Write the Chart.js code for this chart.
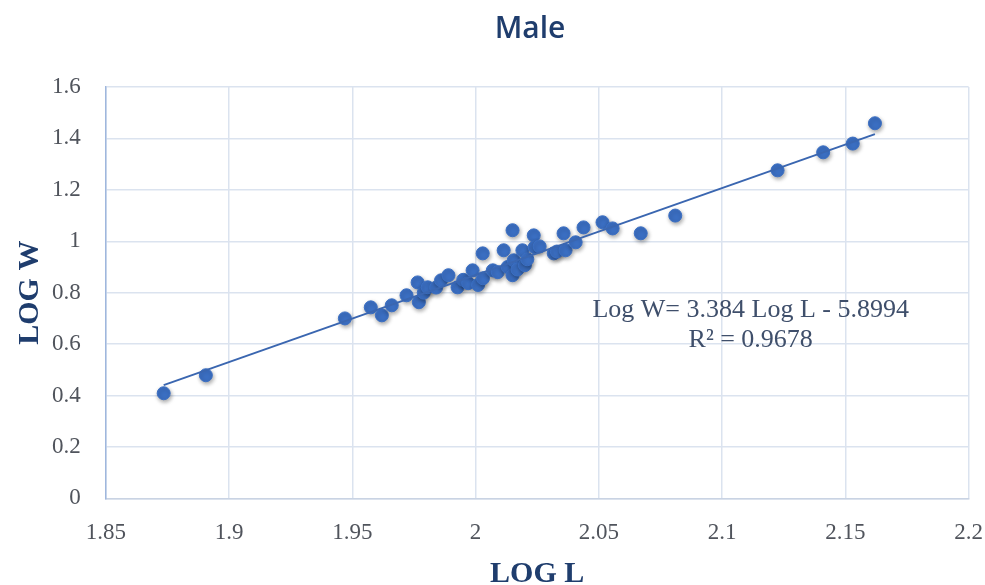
<!DOCTYPE html>
<html>
<head>
<meta charset="utf-8">
<script src="https://cdn.jsdelivr.net/npm/chart.js@4.4.1/dist/chart.umd.min.js"></script>
<style>
    html, body { margin: 0; padding: 0; background: #fff; }
    #wrap { width: 985px; height: 585px; }
</style>
</head>
<body>
<div id="wrap"><canvas id="lwChart"></canvas></div>
<script>
// length-weight pairs (log10), male specimens
const logL = [
    1.8735, 1.8906, 1.947, 1.9575, 1.962, 1.966, 1.972, 1.9765, 1.977, 1.979,
    1.9806, 1.984, 1.986, 1.989, 1.9927, 1.995, 1.997, 1.9988, 2.001, 2.003,
    2.0029, 2.007, 2.009, 2.0114, 2.013, 2.015, 2.015, 2.0155, 2.017, 2.019,
    2.020, 2.021, 2.0236, 2.024, 2.026, 2.0317, 2.033, 2.0357, 2.0365, 2.0406,
    2.0438, 2.0515, 2.0556, 2.067, 2.081, 2.1225, 2.141, 2.153, 2.162
];
const logW = [
    0.409, 0.479, 0.70, 0.743, 0.712, 0.751, 0.79, 0.84, 0.763, 0.80,
    0.821, 0.82, 0.848, 0.868, 0.821, 0.85, 0.837, 0.887, 0.83, 0.856,
    0.953, 0.887, 0.88, 0.965, 0.90, 1.043, 0.868, 0.926, 0.89, 0.965,
    0.907, 0.93, 1.023, 0.977, 0.98, 0.953, 0.96, 1.031, 0.965, 0.996,
    1.054, 1.074, 1.05, 1.031, 1.10, 1.276, 1.346, 1.38, 1.459
];

// fitted regression (shown on the chart)
const slope = 3.384;
const intercept = -5.8994;
const eqLines = ['Log W= 3.384 Log L - 5.8994', 'R\u00b2 = 0.9678'];

const xTicks = [1.85, 1.9, 1.95, 2, 2.05, 2.1, 2.15, 2.2];
const yTicks = [0, 0.2, 0.4, 0.6, 0.8, 1, 1.2, 1.4, 1.6];

const points = logL.map((x, i) => ({ x: x, y: logW[i] }));
const xMin = Math.min(...logL), xMax = Math.max(...logL);
const trend = [xMin, xMax].map(x => ({ x: x, y: slope * x + intercept }));

const serif = '"Liberation Serif", "DejaVu Serif", serif';

// soft drop shadow under the markers
const markerShadow = {
    id: 'markerShadow',
    beforeDatasetDraw(chart, args) {
        if (args.index !== 1) return;
        const ctx = chart.ctx;
        ctx.save();
        ctx.shadowColor = 'rgba(0,0,0,0.35)';
        ctx.shadowBlur = 4;
        ctx.shadowOffsetX = 1;
        ctx.shadowOffsetY = 2;
    },
    afterDatasetDraw(chart, args) {
        if (args.index !== 1) return;
        chart.ctx.restore();
    }
};

// chart heading and the equation label next to the trendline
const annotations = {
    id: 'annotations',
    afterDraw(chart) {
        const { ctx, scales } = chart;
        ctx.save();
        ctx.textAlign = 'center';
        ctx.textBaseline = 'middle';

        ctx.font = '600 30px "Open Sans", sans-serif';
        ctx.fillStyle = '#1f3d6d';
        ctx.fillText('Male', 530, 29);

        const cx = scales.x.getPixelForValue(2.1116);
        const cy = scales.y.getPixelForValue(0.7315);
        ctx.font = '26px ' + serif;
        ctx.fillStyle = '#3f4f6b';
        ctx.fillText(eqLines[0], cx, cy);
        ctx.fillText(eqLines[1], cx, cy + 30);
        ctx.restore();
    }
};

const ctx = document.getElementById('lwChart').getContext('2d');

new Chart(ctx, {
    type: 'scatter',
    data: {
        datasets: [{
            type: 'line',
            label: 'Linear',
            data: trend,
            borderColor: '#3a66b0',
            borderWidth: 2,
            pointRadius: 0,
            fill: false
        }, {
            label: 'Male',
            data: points,
            backgroundColor: '#3b6fc3',
            borderColor: '#3b6fc3',
            pointRadius: 6.5,
            pointHoverRadius: 6.5
        }]
    },
    options: {
        responsive: true,
        maintainAspectRatio: false,
        animation: false,
        layout: {
            padding: { left: 12, right: 0, top: 87, bottom: -7 }
        },
        plugins: {
            legend: { display: false },
            tooltip: { enabled: false },
            title: { display: false }
        },
        scales: {
            x: {
                type: 'linear',
                min: 1.85,
                max: 2.2,
                afterBuildTicks: axis => { axis.ticks = xTicks.map(v => ({ value: v })); },
                // invisible tick marks keep the labels clear of the axis
                grid: { color: '#dbe3ef', lineWidth: 1.5, drawTicks: true, tickLength: 19, tickColor: 'rgba(0,0,0,0)' },
                border: { color: '#c9d3e3', width: 1.5 },
                ticks: {
                    color: '#50545c',
                    font: { family: serif, size: 23 },
                    padding: 2,
                    maxRotation: 0,
                    callback: v => String(+v.toFixed(2))
                },
                title: {
                    display: true,
                    text: 'LOG L',
                    color: '#1f3d6d',
                    font: { family: serif, size: 30, weight: 'bold' },
                    padding: { top: 7, bottom: 0 }
                }
            },
            y: {
                type: 'linear',
                min: 0,
                max: 1.6,
                afterBuildTicks: axis => { axis.ticks = yTicks.map(v => ({ value: v })); },
                grid: { color: '#dbe3ef', lineWidth: 1.5, drawTicks: false },
                border: { color: '#9fb7dd', width: 1.5 },
                ticks: {
                    color: '#50545c',
                    font: { family: serif, size: 23 },
                    padding: 25,
                    callback: v => String(+v.toFixed(1))
                },
                title: {
                    display: true,
                    text: 'LOG W',
                    color: '#1f3d6d',
                    font: { family: serif, size: 30, weight: 'bold' },
                    padding: { top: 0, bottom: -21 }
                }
            }
        }
    },
    plugins: [markerShadow, annotations]
});
</script>
</body>
</html>
